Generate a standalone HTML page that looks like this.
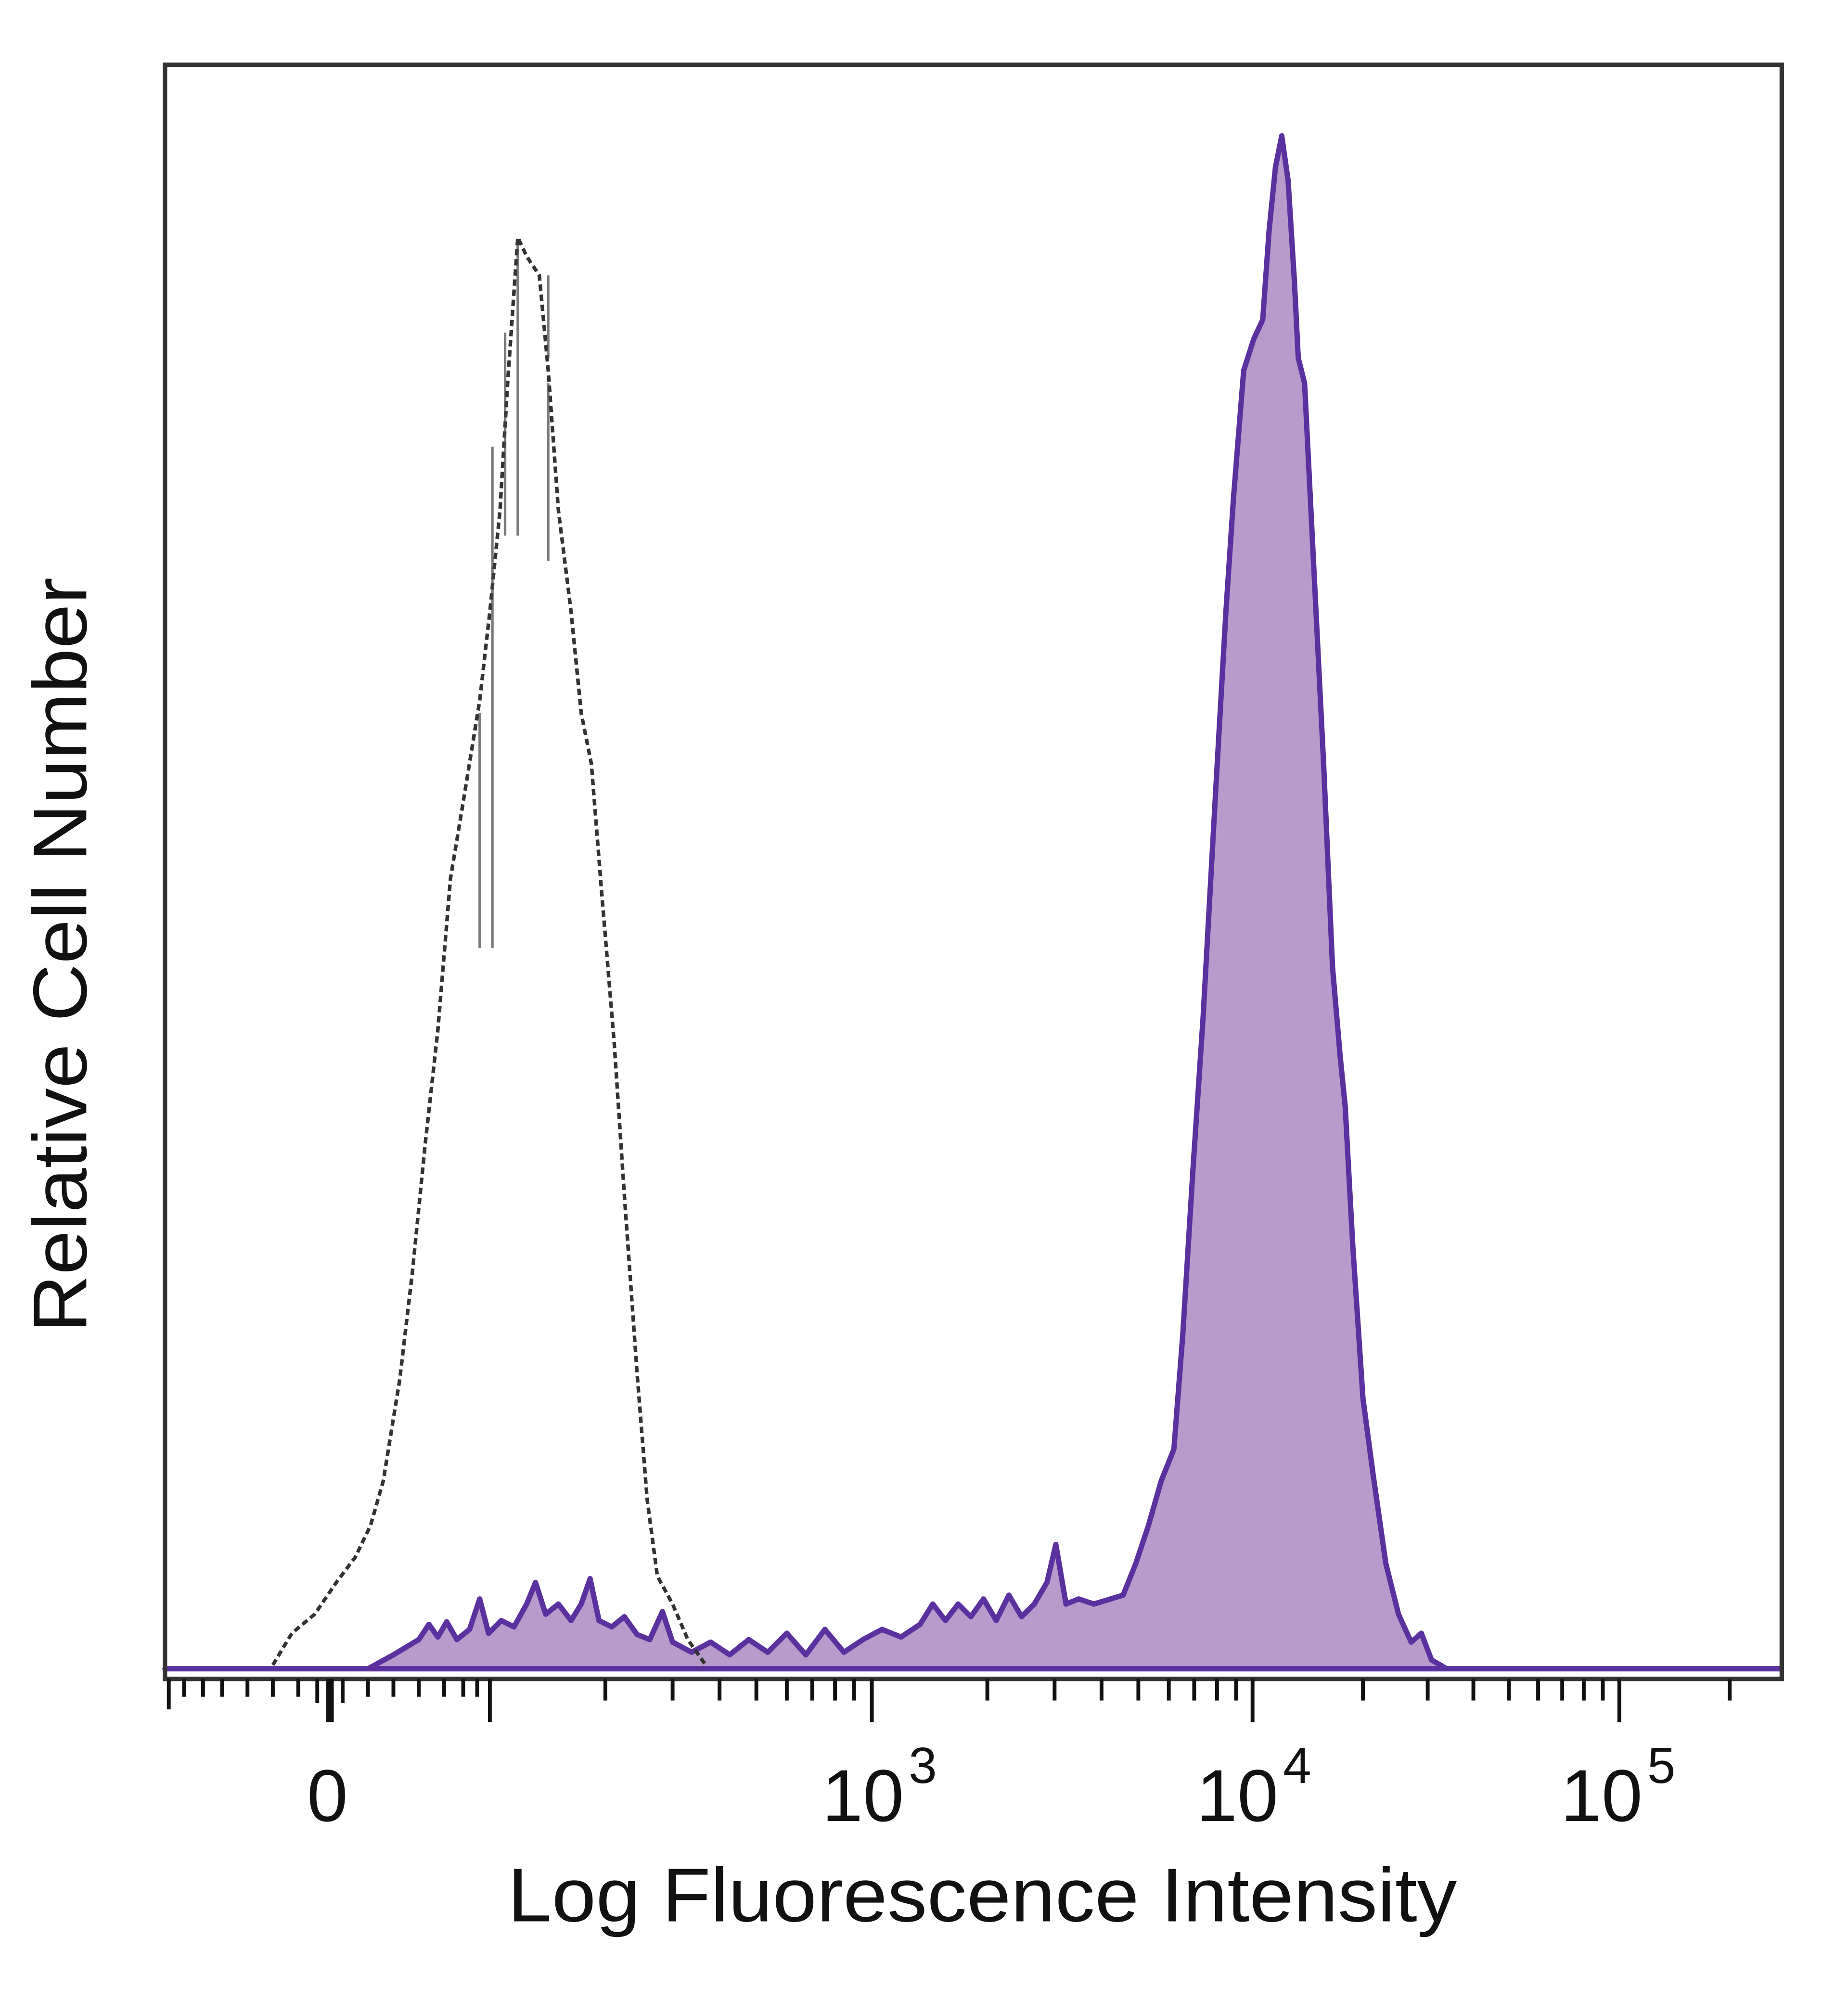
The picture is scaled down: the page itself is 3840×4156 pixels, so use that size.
<!DOCTYPE html>
<html><head><meta charset="utf-8"><style>html,body{margin:0;padding:0;background:#fff}svg{display:block}</style></head>
<body>
<svg width="3840" height="4156" viewBox="0 0 1456.2 1576" xmlns="http://www.w3.org/2000/svg">
<rect x="0" y="0" width="1456.2" height="1576" fill="#fff"/>
<path d="M130,1315 L290,1315 L310,1304 L330,1292 L338,1280 L345,1290 L352,1278 L360,1292 L370,1284 L378,1260 L385,1287 L395,1277 L405,1282 L415,1264 L422,1247 L430,1272 L440,1264 L450,1277 L458,1264 L465,1244 L472,1277 L482,1282 L492,1274 L502,1288 L512,1292 L522,1270 L530,1294 L545,1302 L560,1294 L575,1304 L590,1292 L605,1302 L620,1287 L635,1304 L650,1284 L665,1302 L680,1292 L695,1284 L710,1290 L725,1280 L735,1264 L745,1277 L755,1264 L765,1274 L775,1260 L785,1277 L795,1257 L805,1274 L815,1264 L825,1247 L832,1217 L840,1264 L850,1260 L862,1264 L875,1260 L885,1257 L895,1232 L905,1202 L915,1167 L925,1142 L932,1052 L940,922 L948,802 L958,622 L966,482 L972,392 L980,292 L988,267 L995,252 L1000,182 L1005,132 L1010,107 L1015,142 L1020,222 L1023,282 L1028,302 L1035,442 L1043,602 L1050,762 L1056,832 L1060,872 L1066,982 L1074,1102 L1082,1162 L1092,1232 L1102,1272 L1112,1294 L1120,1287 L1128,1308 L1140,1315 L1403,1315 Z" fill="#b89acb" stroke="#5b309f" stroke-width="4.2" stroke-linejoin="round"/>
<path d="M215,1312 L230,1287 L248,1272 L265,1247 L280,1227 L292,1202 L302,1167 L315,1087 L325,1002 L335,902 L345,812 L355,692 L365,632 L378,552 L386,482 L394,402 L400,302 L408,187 L415,202 L425,217 L432,292 L440,402 L450,482 L458,562 L466,602 L474,702 L484,822 L492,942 L502,1082 L510,1182 L518,1242 L530,1264 L542,1292 L556,1312" fill="none" stroke="#333" stroke-width="2.8" stroke-dasharray="5,3"/>
<g stroke="#444" stroke-width="2" opacity="0.7">
<line x1="408" y1="192" x2="408" y2="422"/><line x1="398" y1="262" x2="398" y2="422"/><line x1="432" y1="217" x2="432" y2="282"/><line x1="432" y1="302" x2="432" y2="442"/><line x1="378" y1="562" x2="378" y2="747"/><line x1="388" y1="352" x2="388" y2="747"/>
</g>
<rect x="130" y="51" width="1274" height="1272" fill="none" stroke="#333" stroke-width="3.5"/>
<g stroke="#111" stroke-width="3">
<line x1="133" y1="1323" x2="133" y2="1347"/><line x1="145" y1="1323" x2="145" y2="1337"/><line x1="160" y1="1323" x2="160" y2="1337"/><line x1="175" y1="1323" x2="175" y2="1337"/><line x1="195" y1="1323" x2="195" y2="1337"/><line x1="215" y1="1323" x2="215" y2="1337"/><line x1="235" y1="1323" x2="235" y2="1337"/>
<line x1="250" y1="1323" x2="250" y2="1342"/><line x1="260" y1="1323" x2="260" y2="1357" stroke-width="6"/><line x1="270" y1="1323" x2="270" y2="1342"/>
<line x1="290" y1="1323" x2="290" y2="1337"/><line x1="310" y1="1323" x2="310" y2="1337"/><line x1="330" y1="1323" x2="330" y2="1337"/><line x1="350" y1="1323" x2="350" y2="1337"/><line x1="365" y1="1323" x2="365" y2="1337"/><line x1="376" y1="1323" x2="376" y2="1337"/>
<line x1="386" y1="1323" x2="386" y2="1357"/>
<line x1="477" y1="1323" x2="477" y2="1340"/><line x1="530" y1="1323" x2="530" y2="1340"/><line x1="567" y1="1323" x2="567" y2="1340"/><line x1="596" y1="1323" x2="596" y2="1340"/><line x1="620" y1="1323" x2="620" y2="1340"/><line x1="640" y1="1323" x2="640" y2="1340"/><line x1="658" y1="1323" x2="658" y2="1340"/><line x1="673" y1="1323" x2="673" y2="1340"/>
<line x1="687" y1="1323" x2="687" y2="1357"/>
<line x1="778" y1="1323" x2="778" y2="1340"/><line x1="831" y1="1323" x2="831" y2="1340"/><line x1="868" y1="1323" x2="868" y2="1340"/><line x1="897" y1="1323" x2="897" y2="1340"/><line x1="921" y1="1323" x2="921" y2="1340"/><line x1="941" y1="1323" x2="941" y2="1340"/><line x1="959" y1="1323" x2="959" y2="1340"/><line x1="974" y1="1323" x2="974" y2="1340"/>
<line x1="987" y1="1323" x2="987" y2="1357"/>
<line x1="1074" y1="1323" x2="1074" y2="1340"/><line x1="1125" y1="1323" x2="1125" y2="1340"/><line x1="1161" y1="1323" x2="1161" y2="1340"/><line x1="1189" y1="1323" x2="1189" y2="1340"/><line x1="1212" y1="1323" x2="1212" y2="1340"/><line x1="1231" y1="1323" x2="1231" y2="1340"/><line x1="1248" y1="1323" x2="1248" y2="1340"/><line x1="1263" y1="1323" x2="1263" y2="1340"/>
<line x1="1276" y1="1323" x2="1276" y2="1357"/>
<line x1="1363" y1="1323" x2="1363" y2="1340"/>
</g>
<g font-family="Liberation Sans, sans-serif" fill="#111">
<text x="258" y="1435" font-size="58" text-anchor="middle">0</text>
<text x="680" y="1435" font-size="58" text-anchor="middle">10</text><text x="716" y="1405" font-size="40">3</text>
<text x="975" y="1435" font-size="58" text-anchor="middle">10</text><text x="1011" y="1405" font-size="40">4</text>
<text x="1262" y="1435" font-size="58" text-anchor="middle">10</text><text x="1298" y="1405" font-size="40">5</text>
<text x="400" y="1514" font-size="60" textLength="748" lengthAdjust="spacingAndGlyphs">Log Fluorescence Intensity</text>
<text transform="translate(68,1050) rotate(-90)" font-size="60" textLength="595" lengthAdjust="spacingAndGlyphs">Relative Cell Number</text>
</g>
</svg>
</body></html>
